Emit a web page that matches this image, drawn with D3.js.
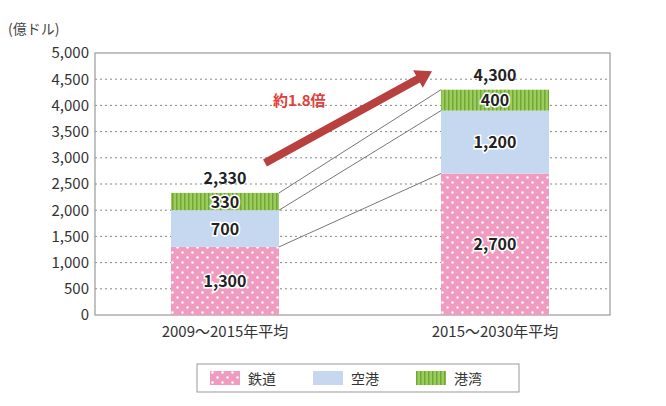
<!DOCTYPE html>
<html><head><meta charset="utf-8">
<script src="https://cdn.jsdelivr.net/npm/d3@7"></script>
<style>body{margin:0;background:#fff}text{font-family:"Noto Sans CJK JP","Noto Sans",sans-serif}</style>
</head><body>
<script>
const categories = ['2009～2015年平均', '2015～2030年平均'];
const seriesNames = ['鉄道', '空港', '港湾'];
const railway = [1300, 2700];
const airport = [700, 1200];
const port = [330, 400];
const totals = [2330, 4300];
const yTicks = [0, 500, 1000, 1500, 2000, 2500, 3000, 3500, 4000, 4500, 5000];
const growthLabel = '約1.8倍';

const W = 666, H = 406;
const m = {left: 95, right: 610, top: 53, bottom: 315};
const svg = d3.select('body').append('svg').attr('width', W).attr('height', H);

// patterns
const defs = svg.append('defs');
const pd = defs.append('pattern').attr('id', 'dots').attr('patternUnits', 'userSpaceOnUse').attr('width', 10).attr('height', 10);
pd.append('rect').attr('width', 10).attr('height', 10).attr('fill', '#f09cc0');
pd.append('circle').attr('cx', 2.5).attr('cy', 2.5).attr('r', 1.2).attr('fill', '#fff');
pd.append('circle').attr('cx', 7.5).attr('cy', 7.5).attr('r', 1.2).attr('fill', '#fff');
const ps = defs.append('pattern').attr('id', 'stripes').attr('patternUnits', 'userSpaceOnUse').attr('width', 4).attr('height', 4);
ps.append('rect').attr('width', 4).attr('height', 4).attr('fill', '#9ccc5c');
ps.append('rect').attr('width', 1.5).attr('height', 4).attr('fill', '#6fa838');
const fills = ['url(#dots)', '#c5d8ef', 'url(#stripes)'];

const y = d3.scaleLinear().domain([0, 5000]).range([m.bottom, m.top]);
const x = d3.scalePoint().domain(categories).range([225, 495]);
const bw = 108;

// grid
svg.append('g').selectAll('line').data(yTicks.filter(d => d > 0 && d < 5000)).join('line')
  .attr('x1', m.left).attr('x2', m.right).attr('y1', d => y(d)).attr('y2', d => y(d))
  .attr('stroke', '#888').attr('stroke-dasharray', '2,3').attr('stroke-width', 1);
svg.append('rect').attr('x', m.left).attr('y', m.top).attr('width', m.right - m.left).attr('height', m.bottom - m.top)
  .attr('fill', 'none').attr('stroke', '#999').attr('stroke-width', 1.2);

// y axis
const ya = svg.append('g').attr('transform', `translate(${m.left},0)`)
  .call(d3.axisLeft(y).tickValues(yTicks).tickFormat(d3.format(',')).tickSize(0).tickPadding(6));
ya.select('.domain').remove();
ya.selectAll('text').attr('font-size', 15).attr('fill', '#333').attr('font-family', '"Liberation Sans Narrow","Noto Sans",sans-serif');
svg.append('text').attr('x', 8).attr('y', 34).attr('font-size', 14).attr('fill', '#444').text('(億ドル)');

// stacks
const stackData = categories.map((c, i) => ({cat: c, r: railway[i], a: airport[i], p: port[i]}));
const stacked = d3.stack().keys(['r', 'a', 'p'])(stackData);
const valueArrays = [railway, airport, port];

// connector lines
[0, 1, 2].forEach(k => {
  svg.append('line')
    .attr('x1', x(categories[0]) + bw / 2).attr('y1', y(stacked[k][0][1]))
    .attr('x2', x(categories[1]) - bw / 2).attr('y2', y(stacked[k][1][1]))
    .attr('stroke', '#777').attr('stroke-width', 1);
});

stacked.forEach((layer, k) => {
  svg.append('g').selectAll('rect').data(layer).join('rect')
    .attr('x', d => x(d.data.cat) - bw / 2).attr('width', bw)
    .attr('y', d => y(d[1])).attr('height', d => y(d[0]) - y(d[1]))
    .attr('fill', fills[k]);
  svg.append('g').selectAll('text').data(layer).join('text')
    .attr('x', d => x(d.data.cat)).attr('y', d => (y(d[0]) + y(d[1])) / 2 + 6)
    .attr('text-anchor', 'middle').attr('font-size', 16).attr('font-weight', 'bold').attr('fill', '#222')
    .attr('stroke', '#fff').attr('stroke-width', 3).attr('paint-order', 'stroke')
    .text((d, i) => d3.format(',')(valueArrays[k][i]));
});
svg.append('g').selectAll('text').data(totals).join('text')
  .attr('x', (d, i) => x(categories[i])).attr('y', d => y(d) - 9)
  .attr('text-anchor', 'middle').attr('font-size', 16).attr('font-weight', 'bold').attr('fill', '#222')
  .text(d => d3.format(',')(d));

// x labels
svg.append('g').selectAll('text').data(categories).join('text')
  .attr('x', d => x(d)).attr('y', 337).attr('text-anchor', 'middle').attr('font-size', 15).attr('fill', '#333').text(d => d);

// growth arrow
const ax1 = 265, ay1 = y(2900), ax2 = 432, ay2 = y(4650);
const ang = Math.atan2(ay2 - ay1, ax2 - ax1);
const ar = svg.append('g').attr('transform', `translate(${ax1},${ay1}) rotate(${ang * 180 / Math.PI})`);
const len = Math.hypot(ax2 - ax1, ay2 - ay1);
ar.append('path').attr('d', `M0,-4 L${len - 16},-4 L${len - 16},-10 L${len},0 L${len - 16},10 L${len - 16},4 L0,4 Z`).attr('fill', '#b8403e');
svg.append('text').attr('x', 273).attr('y', 106).attr('font-size', 15).attr('font-weight', 'bold').attr('fill', '#e0403a').text(growthLabel);

// legend
const lg = svg.append('g');
lg.append('rect').attr('x', 197).attr('y', 364).attr('width', 322).attr('height', 28).attr('fill', '#fff').attr('stroke', '#999');
seriesNames.forEach((n, i) => {
  const lx = 210 + i * 103;
  lg.append('rect').attr('x', lx).attr('y', 371).attr('width', 30).attr('height', 14).attr('fill', fills[i]);
  lg.append('text').attr('x', lx + 38).attr('y', 384).attr('font-size', 14).attr('fill', '#333').text(n);
});
</script>
</body></html>
